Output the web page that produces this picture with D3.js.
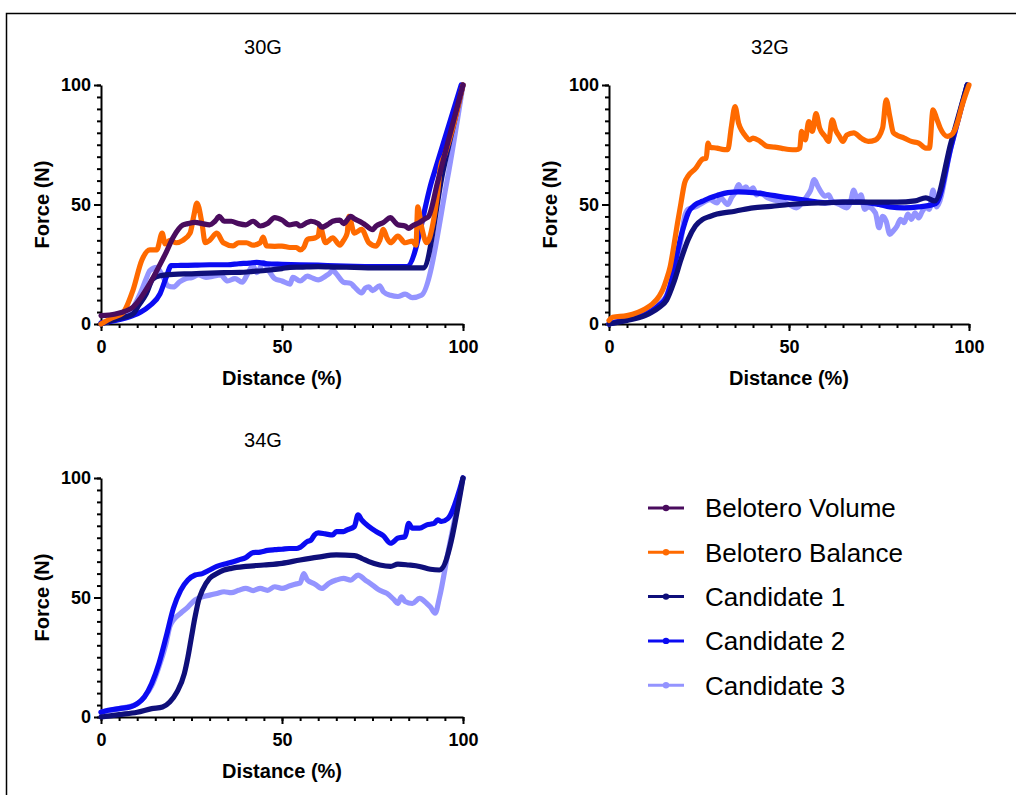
<!DOCTYPE html>
<html><head><meta charset="utf-8">
<script src="https://cdn.jsdelivr.net/npm/d3@7"></script>
<style>body{margin:0;background:#fff}svg{display:block;font-family:"Liberation Sans",Arial,sans-serif}</style>
</head><body>
<svg id="c" width="1016" height="795"></svg>
<script>
// ---------- data (Distance %, Force N) ----------
const seriesNames = ["Belotero Volume","Belotero Balance","Candidate 1","Candidate 2","Candidate 3"];
const seriesColors = ["#4a0c5e","#ff6a00","#0f0f7a","#0b0bf2","#9494ff"];
const panelTitles = ["30G","32G","34G"];
const xTickLabels = [0,50,100];
const yTickLabels = [0,50,100];

const vol30 = [[0,3.5],[4,4.2],[8.8,7],[11,11],[13.5,17],[16,24],[18,30],[20,36.4],[22.6,41.4],[24,42],[26,42.5],[28,42],[30,41.5],[31.5,43],[32.7,45],[34,43],[36,43],[38,42],[40,41.5],[42,43],[44,41],[46,42],[48,44.5],[50,43.5],[52,41.5],[54,42],[55,41],[57,42.5],[58,43],[60,42],[61,40.5],[63,42],[64,43],[66,43.5],[67,42],[69,45],[70,44],[72,42.5],[73,41.5],[75,39.5],[76,41],[78,42.5],[80,44.5],[81,43],[82,41.5],[84,41],[85,40],[86,41],[88,42.5],[89.5,44],[90.5,45],[93,59.5],[96,77],[100,100]];
const bal30 = [[0,0],[3,2.5],[6,4.6],[8.8,14],[11.3,26.8],[13.5,31],[15.4,31],[16.9,38],[17.7,33.5],[19,35],[20.8,34],[22.6,35],[24.6,38],[25.6,45],[26.5,50.6],[27.9,42],[28.8,34],[30,35],[32,38],[33.8,34],[36.5,32.7],[38,34],[40.2,34],[42,33],[44,34],[44.8,36.4],[45.7,32.7],[48,32.5],[50,32.6],[52.2,32],[54,32],[55,31],[56,32],[57,35.4],[59,36],[60,36.8],[60.5,41],[62,34],[64,36],[66,33],[67,35],[68,38],[68.5,45],[70,38],[72,39.6],[74,34],[76,32.6],[77,35],[78,39.6],[79,36],[80,34],[82,36.8],[84,34],[86,34.7],[87,33],[87.5,49],[88.5,41],[90,34],[91.7,42],[93,55],[93.8,66],[95,71],[97,81],[100,100]];
const cand1_30 = [[0,0],[4,2],[8.8,4.2],[10.5,8],[12.5,12.6],[14.3,18.8],[16.3,20.2],[20,20.8],[25,21],[30,21.3],[34,21.5],[38.4,21.6],[42,22],[46,22.5],[50,23.2],[52.2,23.7],[55,23.8],[60,24],[65,23.8],[70,23.7],[75,23.5],[80,23.5],[85,23.5],[89,23.5],[94.5,64],[100,100]];
const cand2_30 = [[0,0.5],[4,1.5],[8.8,3.5],[11,5],[13.5,7.7],[16.3,12.6],[18,19.5],[19.4,24.4],[22,24.5],[26,24.6],[30,24.8],[35,24.8],[38,25.2],[41,25.5],[43,25.8],[46,25.2],[50,25],[55,24.8],[60,24.6],[65,24.3],[70,24.1],[75,24],[80,24],[84.5,24],[91.4,60],[99.5,100]];
const cand3_30 = [[0,0],[4,2],[8,5],[10.8,12.6],[12.5,19],[13.5,22.3],[15.4,23.7],[17.2,19.5],[18.5,16],[20,15.5],[21.7,17.6],[23.5,19],[25,19.4],[27,20.5],[29,19.5],[31,20],[33,20.5],[35,18],[37,19],[39,17.5],[40.5,21],[42,24.4],[43,21.5],[45,25.7],[46.5,22],[48,19],[50,18],[52.2,16.7],[53,19.5],[55,18],[57,20],[58,19.5],[60,18.5],[62,20],[63,21],[64,22.5],[65,21],[67,17.5],[69,17],[70,15.5],[72,13],[73,15],[74,15.5],[75,14],[77,16],[78,13.5],[80,12],[82,11.5],[84,12.5],[86,11],[88.5,12],[95.6,60],[100,100]];

const bal32 = [[0,1.5],[1,2.8],[5,3.5],[8,4.9],[10,6.3],[12,8.3],[14,11.8],[15,14.6],[16,18.8],[17,24],[18,32.6],[19,42],[20,50.7],[21,59],[22,62],[24,65],[26,69],[27,69.4],[27.5,75.7],[28,74],[30,73.6],[32,73],[33,73],[34,82.6],[35,91],[36,84],[37,80.6],[38,78.5],[39,77],[40,77.8],[42,76.4],[44,74.3],[46,74],[48,73.5],[50,73],[52,72.9],[53,73.6],[53.5,80.6],[54.5,77],[55.5,84.7],[56.5,80.6],[57.5,88],[58.5,82],[60,78.5],[61,76.4],[62,85.4],[63,81],[64,78.5],[65,76.4],[66,79],[68,80],[70,77.8],[72,76.4],[74,77],[76,82],[77,93.8],[78,86.8],[79,80],[80,79],[82,77.8],[84,76.4],[86,75.7],[88,73.6],[89,73.6],[90,89.6],[91,86],[92,82],[94,78.5],[95,79],[96,81],[97,85.4],[98,91],[100,100]];
const cand1_32 = [[0,0],[5,1.5],[10,3.5],[12,5],[14,7],[16,10],[18,17.4],[20,27],[22,35.4],[24,41],[26,43.8],[28,45],[30,46],[35,47.2],[40,48.6],[45,49.2],[50,50],[55,50.5],[60,50.7],[65,51],[70,51],[75,51],[80,51],[85,51.5],[88,52.8],[90.5,51.5],[95,76],[99.5,100]];
const cand2_32 = [[0,0],[5,2],[10,4],[14,8],[16,11.5],[17,16],[18,23],[19,30],[20,36.8],[21,42],[22,46.5],[24,50],[26,51.4],[28,52.8],[30,53.8],[33,55],[36,55.3],[40,55],[44,54.2],[48,53.2],[52,52.4],[56,51.4],[60,50.7],[65,51],[70,51],[75,50],[78,49],[82,48.6],[86,49],[90,50],[91,50.7],[95,74],[99.5,100]];
const cand3_32 = [[0,0],[5,2.5],[10,4.5],[14,8.5],[16,12],[18,22],[20,35],[21,45],[22,48],[24,49],[26,50.7],[28,52],[30,50.7],[31,52.8],[33,50],[34,52.8],[35,55],[36,58.3],[37,56],[38,57.4],[39,55.6],[40,57],[41,54],[42,55],[44,52.8],[46,51.8],[48,51.4],[50,50],[52,48.6],[54,51.4],[55,53.5],[56,56],[57,60.4],[58,57.6],[59,55],[60,53.5],[61,54],[62,51.4],[64,50],[66,48.6],[67,50.7],[68,56],[69,52],[70,54],[71,48],[72,49],[74,46.5],[75,40.3],[76,45],[77,43],[78,37.5],[79,39],[80,41],[81,43.8],[82,42.4],[83,46],[84,43.8],[85,46.5],[86,44.4],[87,47],[88,49],[89,48],[90,56],[91,49],[95,74],[99.5,100]];

const cand1_34 = [[0,0],[5,1],[10,2],[14,3.5],[17,4.2],[19,6.3],[21,10.5],[23,18],[24,25],[25,33.6],[26,42],[27,49],[28,53],[30,58],[32,60],[34,61.5],[36,62.2],[40,63],[45,63.6],[50,64.3],[55,65.7],[60,66.9],[65,67.8],[70,67.5],[72,66.4],[74,65],[77,63.6],[80,63],[82,64],[85,63.6],[88,63],[91,61.8],[93.5,61.5],[100,100]];
const cand2_34 = [[0,2],[2,2.8],[5,3.5],[8,4.2],[10,5.6],[12,8.4],[14,14],[16,22.4],[18,33.6],[20,45.5],[22,53],[24,57.3],[26,59.4],[28,60],[30,61.5],[32,63],[35,64.3],[38,65.7],[40,66.7],[42,68.8],[44,69],[46,69.7],[48,70],[50,70.2],[52,70.5],[54,70.5],[55,71],[57,73.4],[58,74],[59,76.2],[60,77],[62,76.6],[64,76.2],[65,77.6],[67,77.6],[68,78.3],[70,79.7],[71,84.6],[72,82.5],[74,79.7],[76,77.6],[78,75.8],[80,72.7],[82,74.8],[84,75.5],[85,81],[86,79],[88,79],[90,80.4],[92,81],[93,82.5],[94,81.8],[95.8,83],[100,100]];
const cand3_34 = [[0,2],[5,3.5],[10,5.5],[12,8.5],[14,13],[16,21],[18,31],[19,37.8],[20,40.6],[22,43.4],[24,46],[26,49],[28,50.3],[30,51],[32,51.7],[34,52.4],[36,52],[38,53],[40,53.8],[42,52.9],[44,53.8],[46,53],[48,54.5],[50,53.8],[52,54.8],[54,55.7],[55,56],[56,60],[57,57.3],[59,55.7],[61,53.8],[63,56],[65,57.3],[67,58],[69,57.3],[71,59.4],[73,57.3],[75,55.2],[77,53],[79,51.7],[81,49],[82,47.5],[83,50.3],[84,48.3],[86,47.5],[88,49.6],[90,47.5],[91,46],[92.3,43.4],[93.5,50],[96,70],[100,100]];

// ---------- layout ----------
const svg = d3.select("#c");
svg.append("rect").attr("x",6.5).attr("y",13.5).attr("width",1030).attr("height",810)
  .attr("fill","none").attr("stroke","#000").attr("stroke-width",1.5);

const panels = [
  {title:panelTitles[0], x0:101, x1:463, y0:324, y1:85, titleX:263,
   series:[cand3_30,cand2_30,cand1_30,bal30,vol30], idx:[4,3,2,1,0]},
  {title:panelTitles[1], x0:609, x1:969, y0:324, y1:85, titleX:770,
   series:[cand3_32,cand2_32,cand1_32,bal32], idx:[4,3,2,1]},
  {title:panelTitles[2], x0:101, x1:463, y0:717, y1:478, titleX:263,
   series:[cand3_34,cand2_34,cand1_34], idx:[4,3,2]}
];

panels.forEach(p=>{
  const x = d3.scaleLinear().domain([0,100]).range([p.x0,p.x1]);
  const y = d3.scaleLinear().domain([0,100]).range([p.y0,p.y1]);
  const g = svg.append("g");
  const minor = d3.range(0,101,5);
  g.append("g").attr("transform",`translate(0,${p.y0})`)
    .call(d3.axisBottom(x).tickValues(minor).tickSize(4).tickSizeOuter(0).tickFormat(""))
    .call(a=>a.selectAll("line,path").attr("stroke","#000").attr("stroke-width",2));
  g.append("g").attr("transform",`translate(${p.x0},0)`)
    .call(d3.axisLeft(y).tickValues(minor).tickSize(4).tickSizeOuter(0).tickFormat(""))
    .call(a=>a.selectAll("line,path").attr("stroke","#000").attr("stroke-width",2));
  const xa = g.append("g").attr("transform",`translate(0,${p.y0})`)
    .call(d3.axisBottom(x).tickValues(xTickLabels).tickSize(7).tickSizeOuter(0).tickPadding(9));
  xa.select(".domain").remove();
  xa.selectAll("line").attr("stroke","#000").attr("stroke-width",2);
  xa.selectAll("text").attr("font-size",18).attr("font-weight","bold").attr("fill","#000")
    .attr("font-family","'Liberation Sans',Arial,sans-serif");
  const ya = g.append("g").attr("transform",`translate(${p.x0},0)`)
    .call(d3.axisLeft(y).tickValues(yTickLabels).tickSize(7).tickSizeOuter(0).tickPadding(3));
  ya.select(".domain").remove();
  ya.selectAll("line").attr("stroke","#000").attr("stroke-width",2);
  ya.selectAll("text").attr("font-size",18).attr("font-weight","bold").attr("fill","#000")
    .attr("font-family","'Liberation Sans',Arial,sans-serif");
  svg.append("text").attr("x",p.titleX).attr("y",p.y1-31).attr("text-anchor","middle")
    .attr("font-size",20).text(p.title);
  svg.append("text").attr("x",(p.x0+p.x1)/2).attr("y",p.y0+61).attr("text-anchor","middle")
    .attr("font-size",20).attr("font-weight","bold").text("Distance (%)");
  svg.append("text").attr("transform",`translate(${p.x0-59},${(p.y0+p.y1)/2}) rotate(-90)`)
    .attr("text-anchor","middle").attr("dy","0.35em")
    .attr("font-size",20).attr("font-weight","bold").text("Force (N)");
  const line = d3.line().x(d=>x(d[0])).y(d=>y(d[1])).curve(d3.curveMonotoneX);
  p.series.forEach((s,i)=>{
    g.append("path").datum(s).attr("d",line).attr("fill","none")
      .attr("stroke",seriesColors[p.idx[i]]).attr("stroke-width",5.2)
      .attr("stroke-linejoin","round").attr("stroke-linecap","round");
  });
});

const leg = svg.append("g");
seriesNames.forEach((n,i)=>{
  const yy = 508 + i*44.3;
  leg.append("line").attr("x1",648).attr("x2",684).attr("y1",yy).attr("y2",yy)
    .attr("stroke",seriesColors[i]).attr("stroke-width",3);
  leg.append("circle").attr("cx",666).attr("cy",yy).attr("r",3.2).attr("fill",seriesColors[i]);
  leg.append("text").attr("x",705).attr("y",yy).attr("dy","0.36em").attr("font-size",26)
    .attr("fill","#000").text(n);
});
</script>
</body></html>
